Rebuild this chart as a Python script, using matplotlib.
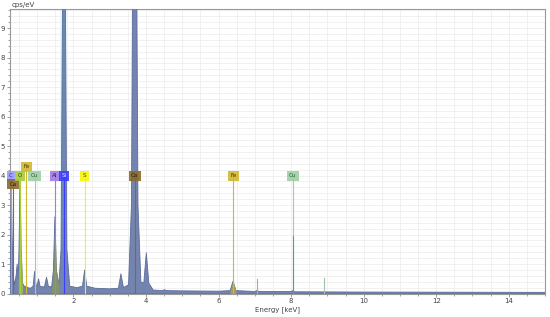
import matplotlib.pyplot as plt
from matplotlib.ticker import MultipleLocator
import numpy as np

# spectrum (keV, cps/eV)
energy = [0.25, 0.27, 0.29, 0.31, 0.34, 0.38, 0.42, 0.45, 0.48, 0.50,
          0.53, 0.56, 0.60, 0.66, 0.70, 0.74, 0.82, 0.89, 0.93, 0.97,
          1.00, 1.04, 1.08, 1.20, 1.26, 1.31, 1.40, 1.45, 1.49, 1.53,
          1.60, 1.66, 1.70, 1.74, 1.78, 1.82, 1.90, 2.10, 2.25, 2.31,
          2.37, 2.60, 3.00, 3.24, 3.31, 3.38, 3.52, 3.60, 3.64, 3.69,
          3.74, 3.78, 3.86, 3.94, 4.01, 4.08, 4.20, 4.45, 4.51, 4.57,
          5.00, 6.00, 6.32, 6.40, 6.48, 7.00, 7.06, 7.12, 8.00, 8.05,
          8.10, 10.0, 15.0]
cps = [0.30, 2.0, 3.7, 2.0, 0.6, 0.3, 0.6, 1.0, 0.5, 1.5,
       3.9, 1.5, 0.35, 0.22, 0.25, 0.2, 0.18, 0.25, 0.75, 0.3,
       0.25, 0.5, 0.25, 0.22, 0.55, 0.25, 0.22, 0.8, 2.6, 0.8,
       0.3, 1.5, 10.0, 30.0, 10.0, 1.5, 0.25, 0.2, 0.25, 0.8,
       0.25, 0.18, 0.16, 0.18, 0.67, 0.2, 0.3, 3.0, 12.0, 25.0,
       12.0, 3.0, 0.4, 0.35, 1.38, 0.35, 0.12, 0.1, 0.13, 0.1,
       0.09, 0.08, 0.1, 0.42, 0.1, 0.07, 0.1, 0.07, 0.07, 0.1,
       0.06, 0.05, 0.04]

# element markers
el_names = ['C', 'Ca', 'O', 'Fe', 'Cu', 'Al', 'Si', 'S', 'Ca', 'Fe', 'Cu']
el_energy = [0.277, 0.341, 0.525, 0.705, 0.930, 1.487, 1.740, 2.308, 3.691, 6.404, 8.048]
el_level = [4.0, 3.7, 4.0, 4.3, 4.0, 4.0, 4.0, 4.0, 4.0, 4.0, 4.0]
el_color = ['#9a9aff', '#8a6a2a', '#a8cc3c', '#d0b830', '#9cd0a4', '#a07ae6',
            '#3c3cff', '#f4f40a', '#8a6a2a', '#d0b830', '#9cd0a4']
el_text = ['#303090', '#2a2010', '#304010', '#403010', '#305030', '#302050',
           '#e0e0ff', '#505000', '#2a2010', '#403010', '#305030']

# minor lines (K-beta)
kb_energy = [7.058, 8.905, 8.048]
kb_level = [0.48, 0.52, 1.95]
kb_color = ['#c8b040', '#a0c0a8', '#60a070']

# coloured overlays on some peaks
ov_range = [(0.48, 0.60), (1.40, 1.60), (6.32, 6.48)]
ov_color = ['#a8c83c', '#8a9a50', '#c0a830']

E = np.array(energy)
C = np.array(cps)

fig = plt.figure(figsize=(5.5, 3.17), dpi=100)
ax = fig.add_axes([0.018, 0.074, 0.973, 0.898])

ax.set_xlim(0.25, 15.0)
ax.set_ylim(0, 9.65)

ax.xaxis.set_major_locator(MultipleLocator(2))
ax.xaxis.set_minor_locator(MultipleLocator(0.5))
ax.yaxis.set_major_locator(MultipleLocator(1))
ax.yaxis.set_minor_locator(MultipleLocator(0.2))
ax.grid(which='both', color='#ececec', lw=0.5, zorder=0)
ax.set_axisbelow(True)

ax.tick_params(which='both', labelsize=5, colors='#777777', labelcolor='#444444',
               direction='out', pad=1.5)
ax.tick_params(which='major', length=2, width=0.5)
ax.tick_params(which='minor', length=1.5, width=0.5)
for s in ax.spines.values():
    s.set_color('#999999')
    s.set_linewidth(0.8)

# faint highlight round the big peaks
for e in [1.74, 3.69]:
    ax.axvspan(e - 0.1, e + 0.1, color='#dcfafa', alpha=0.8, lw=0, zorder=1)

ax.fill_between(E, 0, C, color='#7484b0', lw=0.6, edgecolor='#5c6c9c', zorder=3)
for (lo, hi), col in zip(ov_range, ov_color):
    m = (E >= lo) & (E <= hi)
    ax.fill_between(E[m], 0, C[m], color=col, alpha=0.7, lw=0, zorder=4)

for e, lv, col, tc, nm in zip(el_energy, el_level, el_color, el_text, el_names):
    ax.plot([e, e], [0, lv], color=col, lw=0.8, zorder=5)
    ax.text(e, lv, nm, fontsize=4, color=tc, ha='center', va='center', zorder=6,
            bbox=dict(boxstyle='square,pad=0.45', fc=col, ec='none', alpha=0.9))

for e, lv, col in zip(kb_energy, kb_level, kb_color):
    ax.plot([e, e], [0, lv], color=col, lw=0.8, zorder=5)

ax.set_yticks(range(0, 10))
ax.set_xticks([2, 4, 6, 8, 10, 12, 14])

fig.text(0.022, 0.985, 'cps/eV', fontsize=5, color='#444444', ha='left', va='center')
ax.set_xlabel('Energy [keV]', fontsize=5, color='#444444', labelpad=1)

fig.savefig('out.png', dpi=100)
